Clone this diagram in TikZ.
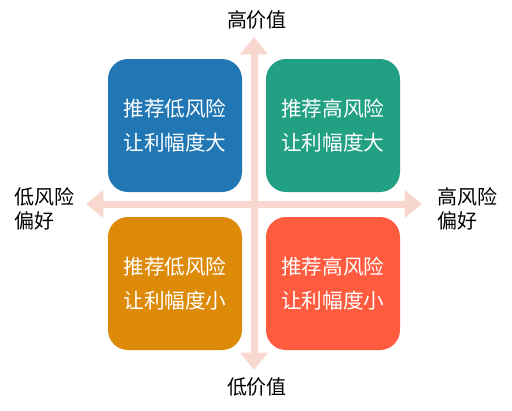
\documentclass[tikz,border=0pt]{standalone}
\usepackage{fontspec}
\setmainfont{Noto Sans CJK SC}
\usetikzlibrary{arrows.meta}

\definecolor{boxblue}{HTML}{2077B4}
\definecolor{boxgreen}{HTML}{21A084}
\definecolor{boxorange}{HTML}{DD8A08}
\definecolor{boxred}{HTML}{FF5B3E}
\definecolor{axispink}{HTML}{F8D8CE}

\tikzset{
    quad/.style={rounded corners=15pt, minimum width=100.5pt, minimum height=99.75pt,
        text=white, align=center, font=\fontsize{15.5}{25}\selectfont, inner sep=0pt},
    axis/.style={axispink, line width=5.25pt,
        {Triangle[width=20pt, length=13pt]}-{Triangle[width=20pt, length=13pt]}},
    axlabel/.style={font=\fontsize{15}{17.5}\selectfont, inner sep=0pt}
}

\begin{document}
\begin{tikzpicture}[x=0.75pt, y=-0.75pt]
    \useasboundingbox (0,0) rectangle (512,411);

    % =================================================================
    % TRỤC: GIÁ TRỊ (DỌC) VÀ RỦI RO (NGANG)
    % =================================================================
    \coordinate (top) at (254,37);
    \coordinate (bottom) at (254,370);
    \coordinate (left) at (86,204);
    \coordinate (right) at (422,204);

    \draw[axis] (bottom) -- (top);
    \draw[axis] (left) -- (right);

    % =================================================================
    % BỐN Ô
    % =================================================================
    \node[quad, fill=boxblue]   (lowbig)   at (175,125.5) {推荐低风险\\让利幅度大};
    \node[quad, fill=boxgreen]  (highbig)  at (333,125.5) {推荐高风险\\让利幅度大};
    \node[quad, fill=boxorange] (lowsmall) at (175,283.5) {推荐低风险\\让利幅度小};
    \node[quad, fill=boxred]    (highsmall) at (333,283.5) {推荐高风险\\让利幅度小};

    % Nhãn hai đầu trục
    \node[axlabel] (hival) at (257,20) {高价值};
    \node[axlabel] (loval) at (257,387) {低价值};
    \node[axlabel, anchor=west, align=left] (lorisk) at (14,209) {低风险\\偏好};
    \node[axlabel, anchor=west, align=left] (hirisk) at (437,209) {高风险\\偏好};

\end{tikzpicture}
\end{document}
